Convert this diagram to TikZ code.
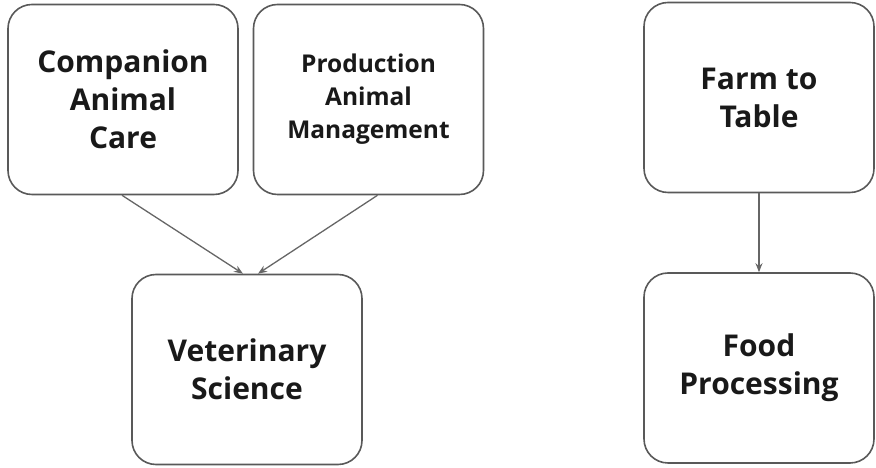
\documentclass[tikz,border=0pt]{standalone}
\usepackage{fontspec}
\setmainfont{Open Sans}
\usetikzlibrary{arrows.meta}
\begin{document}
\begin{tikzpicture}[x=1pt,y=1pt,
  box/.style={draw=black!65, line width=1.6pt, rounded corners=24pt, fill=white,
    minimum width=230pt, minimum height=190pt, align=center, text=black!90,
    font=\fontsize{30}{38}\selectfont\bfseries, inner sep=0pt},
  small/.style={font=\fontsize{24.5}{33}\selectfont\bfseries},
  conn/.style={draw=black!60, line width=1.3pt, -{Stealth[length=9pt,width=7pt]}}]
\useasboundingbox (0,0) rectangle (876,468);
\node[box] (comp) at (123,368.5) {Companion\\Animal\\Care};
\node[box,small] (prod) at (368.5,368.5) {Production\\Animal\\Management};
\node[box] (vet) at (247,98.5) {Veterinary\\Science};
\node[box] (farm) at (759,370.5) {Farm to\\Table};
\node[box] (food) at (759,100) {Food\\Processing};
\coordinate (a1) at ([xshift=-1pt]comp.south);
\coordinate (v1) at ([xshift=-4pt]vet.north);
\coordinate (a2) at ([xshift=9pt]prod.south);
\coordinate (v2) at ([xshift=11pt]vet.north);
\draw[conn] (a1) -- (v1);
\draw[conn] (a2) -- (v2);
\draw[conn] (farm.south) -- (food.north);
\end{tikzpicture}
\end{document}
